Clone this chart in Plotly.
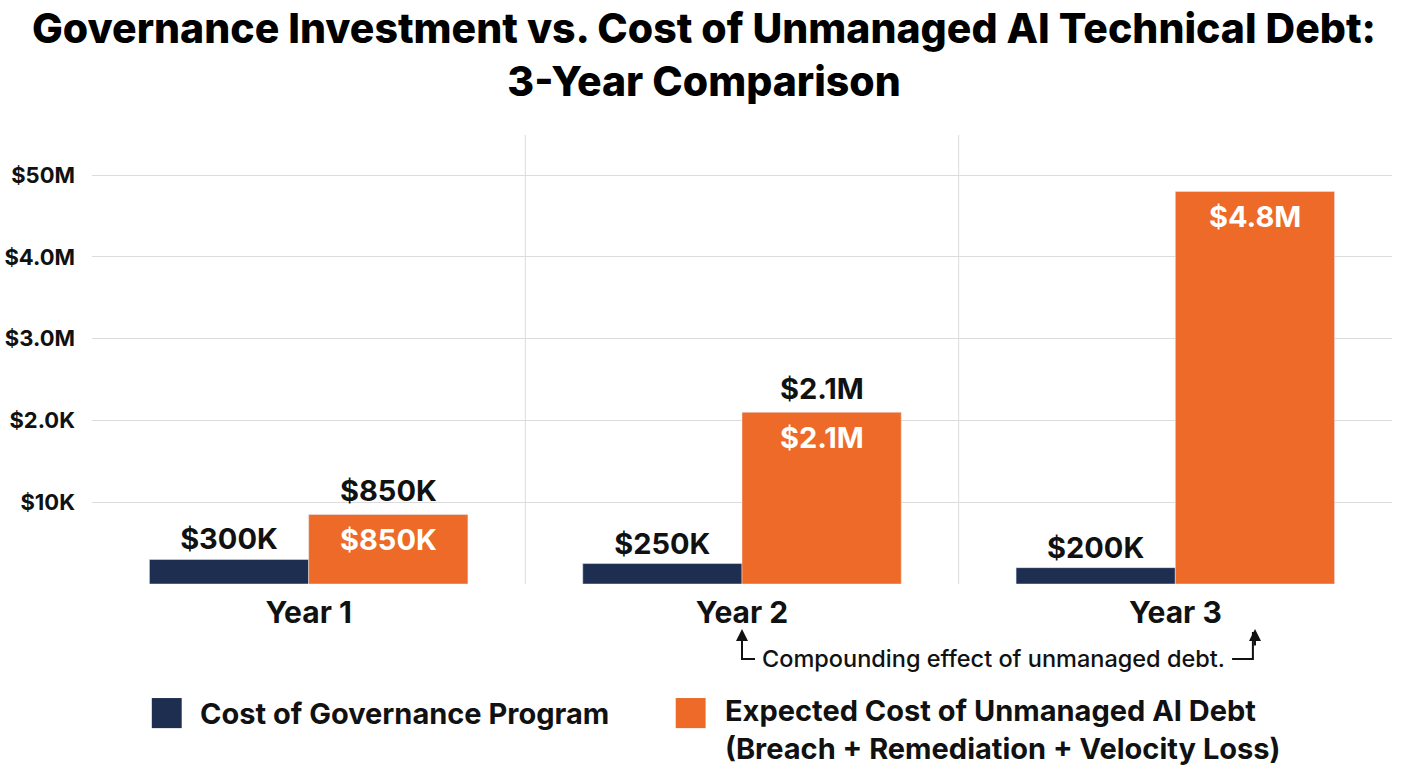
import plotly.graph_objects as go

years = ["Year 1", "Year 2", "Year 3"]
governance = [0.30, 0.25, 0.20]          # $M
unmanaged = [0.85, 2.1, 4.8]             # $M
gov_labels = ["$300K", "$250K", "$200K"]
debt_labels = ["$850K", "$2.1M", "$4.8M"]
debt_callouts = ["$850K", "$2.1M", ""]
tick_vals = [0, 1, 2, 3, 4, 5]
tick_text = ["", "$10K", "$2.0K", "$3.0M", "$4.0M", "$50M"]
series_names = ["Cost of Governance Program",
                "Expected Cost of Unmanaged AI Debt<br>(Breach + Remediation + Velocity Loss)"]
title_text = "Governance Investment vs. Cost of Unmanaged AI Technical Debt:<br>3-Year Comparison"
note_text = "Compounding effect of unmanaged debt."

NAVY = "#1d2e50"
ORANGE = "#ee6a28"
FONT = "Inter"

fig = go.Figure()
fig.add_trace(go.Bar(
    x=years, y=governance, name=series_names[0], marker_color=NAVY,
    text=gov_labels, textposition="outside", cliponaxis=False,
    textfont=dict(family=FONT, size=29, color="#111111", weight=700),
))
fig.add_trace(go.Bar(
    x=years, y=unmanaged, name=series_names[1], marker_color=ORANGE,
))

bar_off = 0.1838
for i, (v, t_in, t_out) in enumerate(zip(unmanaged, debt_labels, debt_callouts)):
    fig.add_annotation(x=i + bar_off, y=v, xref="x", yref="y", text=t_in,
                       showarrow=False, yanchor="top", yshift=-6,
                       font=dict(family=FONT, size=29, color="white", weight=700))
    if t_out:
        fig.add_annotation(x=i + bar_off, y=v, xref="x", yref="y", text=t_out,
                           showarrow=False, yanchor="bottom", yshift=4,
                           font=dict(family=FONT, size=29, color="#111111", weight=700))

# vertical separators between categories
for xv in [0.5, 1.5]:
    fig.add_shape(type="line", xref="x", yref="paper", x0=xv, x1=xv, y0=0, y1=1,
                  line=dict(color="#dcdcdc", width=1), layer="below")

# title
fig.add_annotation(x=0.4708, y=1.18, xref="paper", yref="paper", text=title_text,
                   showarrow=False, xanchor="center", yanchor="middle", align="center",
                   font=dict(family=FONT, size=41, color="#000000", weight=800))

# compounding note with elbow arrows
fig.add_annotation(x=0.514, y=-0.167, xref="paper", yref="paper", text=note_text,
                   showarrow=False, xanchor="left", yanchor="middle",
                   font=dict(family=FONT, size=23.5, color="#111111", weight=500))
fig.add_shape(type="path", xref="paper", yref="paper",
              path="M 0.500,-0.107 L 0.500,-0.167 L 0.510,-0.167",
              line=dict(color="#111111", width=2))
fig.add_annotation(x=1, y=-0.10, ax=0, ay=18, xref="x", yref="paper",
                   text="", showarrow=True, arrowhead=2, arrowsize=1.2, arrowwidth=2,
                   arrowcolor="#111111")
fig.add_shape(type="path", xref="paper", yref="paper",
              path="M 0.877,-0.167 L 0.893,-0.167 L 0.893,-0.107",
              line=dict(color="#111111", width=2))
fig.add_annotation(x=2 + bar_off, y=-0.10, ax=0, ay=18, xref="x", yref="paper",
                   text="", showarrow=True, arrowhead=2, arrowsize=1.2, arrowwidth=2,
                   arrowcolor="#111111")

# custom legend
fig.add_shape(type="rect", xref="paper", yref="paper", x0=0.046, x1=0.069,
              y0=-0.321, y1=-0.254, fillcolor=NAVY, line=dict(width=0))
fig.add_annotation(x=0.0815, y=-0.288, xref="paper", yref="paper", text=series_names[0],
                   showarrow=False, xanchor="left", yanchor="middle",
                   font=dict(family=FONT, size=29, color="#111111", weight=700))
fig.add_shape(type="rect", xref="paper", yref="paper", x0=0.449, x1=0.472,
              y0=-0.321, y1=-0.254, fillcolor=ORANGE, line=dict(width=0))
fig.add_annotation(x=0.485, y=-0.325, xref="paper", yref="paper", text=series_names[1],
                   showarrow=False, xanchor="left", yanchor="middle", align="left",
                   font=dict(family=FONT, size=29, color="#111111", weight=700))

fig.update_layout(
    width=1408, height=768,
    margin=dict(l=92, r=16, t=135, b=184),
    paper_bgcolor="white", plot_bgcolor="white",
    barmode="group", bargap=0.265, bargroupgap=0,
    showlegend=False,
    xaxis=dict(showgrid=False, showline=False, ticks="", automargin=False,
               tickfont=dict(family=FONT, size=30, color="#111111", weight=700),
               ticklabelstandoff=8),
    yaxis=dict(range=[0, 5.49], tickvals=tick_vals, ticktext=tick_text, automargin=False,
               showgrid=True, gridcolor="#dcdcdc", gridwidth=1, zeroline=False,
               showline=False, ticks="", ticklabelstandoff=16,
               tickfont=dict(family=FONT, size=22, color="#111111", weight=700)),
)

fig.write_html("out.html")
